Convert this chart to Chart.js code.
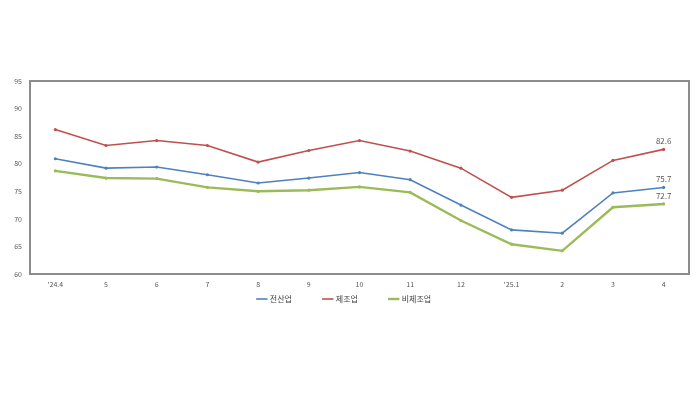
<!DOCTYPE html>
<html>
<head>
<meta charset="utf-8">
<script src="https://cdn.jsdelivr.net/npm/chart.js@4"></script>
<style>
  html, body { margin: 0; padding: 0; background: #fff; }
  #wrap { width: 699px; height: 393px; }
</style>
</head>
<body>
<div id="wrap"><canvas id="chart" width="699" height="393"></canvas></div>
<script>
// ── Data ─────────────────────────────────────────────────────────────────────
const months = ["'24.4", '5', '6', '7', '8', '9', '10', '11', '12', "'25.1", '2', '3', '4'];
const allIndustry   = [80.9, 79.2, 79.4, 78.0, 76.5, 77.4, 78.4, 77.1, 72.5, 68.0, 67.4, 74.7, 75.7];
const manufacturing = [86.2, 83.3, 84.2, 83.3, 80.3, 82.4, 84.2, 82.3, 79.2, 73.9, 75.2, 80.6, 82.6];
const nonManufact   = [78.7, 77.4, 77.3, 75.7, 75.0, 75.2, 75.8, 74.8, 69.7, 65.4, 64.2, 72.1, 72.7];
const yTicks = [60, 65, 70, 75, 80, 85, 90, 95];

const FONT = '"Noto Sans CJK KR", "Noto Sans", sans-serif';

// frame around the plot area + value labels on the last points
const framePlugin = {
  id: 'frame',
  afterDraw(chart) {
    const { ctx, chartArea: a } = chart;
    ctx.save();
    ctx.strokeStyle = '#8c8c8c';
    ctx.lineWidth = 2;
    ctx.strokeRect(a.left, a.top, a.right - a.left, a.bottom - a.top);

    ctx.font = '8px ' + FONT;
    ctx.fillStyle = '#595959';
    ctx.textAlign = 'center';
    ctx.textBaseline = 'bottom';
    chart.data.datasets.forEach((ds, i) => {
      const meta = chart.getDatasetMeta(i);
      const last = meta.data[meta.data.length - 1];
      const v = ds.data[ds.data.length - 1];
      ctx.fillText(v.toFixed(1), last.x, last.y - 4);
    });
    ctx.restore();
  }
};

const mkSet = (label, data, color, width) => ({
  label, data,
  borderColor: color, backgroundColor: color,
  borderWidth: width,
  pointRadius: 1.6, pointHoverRadius: 1.6,
  pointBorderWidth: 0,
  pointStyle: 'circle',
  tension: 0,
});

new Chart(document.getElementById('chart').getContext('2d'), {
  type: 'line',
  data: {
    labels: months,
    datasets: [
      mkSet('전산업', allIndustry, '#4f81bd', 1.6),
      mkSet('제조업', manufacturing, '#c0504d', 1.6),
      mkSet('비제조업', nonManufact, '#9bbb59', 2.4),
    ]
  },
  options: {
    responsive: false,
    animation: false,
    layout: { padding: { left: 0, right: 10, top: 81, bottom: 80 } },
    plugins: {
      tooltip: { enabled: false },
      legend: {
        position: 'bottom',
        labels: {
          usePointStyle: true, pointStyle: 'line',
          boxWidth: 12, padding: 5,
          color: '#404040',
          font: { family: FONT, size: 8 },
          generateLabels(chart) {
            const items = Chart.defaults.plugins.legend.labels.generateLabels(chart);
            items.forEach((it, i) => {
              const ds = chart.data.datasets[i];
              it.lineWidth = ds.borderWidth;
              it.strokeStyle = ds.borderColor;
              if (i < items.length - 1) it.text += '               ';
            });
            return items;
          }
        }
      }
    },
    scales: {
      x: {
        offset: true,
        grid: { display: false, drawTicks: false },
        border: { display: false },
        ticks: { color: '#595959', font: { family: FONT, size: 7 }, padding: 6, maxRotation: 0, autoSkip: false },
        afterFit(s) { s.height = 16; }
      },
      y: {
        min: 60, max: 95,
        afterBuildTicks(s) { s.ticks = yTicks.map(v => ({ value: v })); },
        grid: { display: false, drawTicks: false },
        border: { display: false },
        ticks: { color: '#595959', font: { family: FONT, size: 7 }, padding: 8 },
        afterFit(s) { s.width = 30; }
      }
    }
  },
  plugins: [framePlugin]
});
</script>
</body>
</html>
